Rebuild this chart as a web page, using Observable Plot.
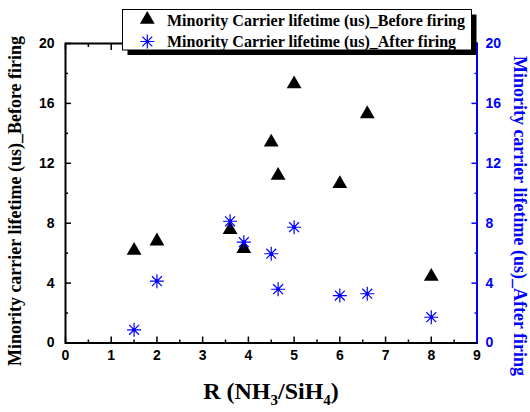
<!DOCTYPE html>
<html><head><meta charset="utf-8">
<script src="https://cdn.jsdelivr.net/npm/d3@7"></script>
<script src="https://cdn.jsdelivr.net/npm/@observablehq/plot@0.6"></script>
<style>body{margin:0;background:#fff}</style>
</head><body><div id="chart"></div>
<script>
const ratio = [1.5, 2.0, 3.6, 3.9, 4.5, 4.65, 5.0, 6.0, 6.6, 8.0];
const beforeFiring = [6.18, 6.8, 7.56, 6.29, 13.4, 11.19, 17.3, 10.63, 15.3, 4.44];
const afterFiring = [0.88, 4.13, 8.13, 6.73, 5.96, 3.59, 7.73, 3.17, 3.29, 1.72];
const xTicks = [0, 1, 2, 3, 4, 5, 6, 7, 8, 9];
const xMinorTicks = [0.5, 1.5, 2.5, 3.5, 4.5, 5.5, 6.5, 7.5, 8.5];
const yTicks = [0, 4, 8, 12, 16, 20];
const yMinorTicks = [2, 6, 10, 14, 18];
const seriesNames = ["Minority Carrier lifetime (us)_Before firing", "Minority Carrier lifetime (us)_After firing"];
const yTitleLeft = "Minority carrier lifetime (us)_Before firing";
const yTitleRight = "Minority carrier lifetime (us)_After firing";

const data = ratio.map((r, i) => ({r, before: beforeFiring[i], after: afterFiring[i]}));

const star8 = {
  draw(ctx, size) {
    const r = Math.sqrt(size / Math.PI), d = r * Math.SQRT1_2;
    ctx.moveTo(-r, 0); ctx.lineTo(r, 0);
    ctx.moveTo(0, -r); ctx.lineTo(0, r);
    ctx.moveTo(-d, -d); ctx.lineTo(d, d);
    ctx.moveTo(-d, d); ctx.lineTo(d, -d);
  }
};
const blank = () => "";
const BLUE = "#0000ff";
const TRI_R = 5.5, STAR_R = 7;

const plot = Plot.plot({
  width: 530, height: 412,
  marginLeft: 65, marginRight: 53.5, marginTop: 43, marginBottom: 69.5,
  style: {fontFamily: "'Liberation Sans', Arial, sans-serif", fontSize: "14px", fontWeight: "bold", background: "white", color: "black"},
  x: {domain: [0, 9]},
  y: {domain: [0, 20]},
  marks: [
    Plot.axisX(xTicks, {anchor: "bottom", tickSize: -6, tickPadding: 13.5, strokeWidth: 1.5, label: null}),
    Plot.axisX(xMinorTicks, {anchor: "bottom", tickSize: -3, tickFormat: blank, strokeWidth: 1.5, label: null}),
    Plot.axisX(xTicks, {anchor: "top", tickSize: -6, tickFormat: blank, strokeWidth: 1.5, label: null}),
    Plot.axisX(xMinorTicks, {anchor: "top", tickSize: -3, tickFormat: blank, strokeWidth: 1.5, label: null}),
    Plot.axisY(yTicks, {anchor: "left", tickSize: -6, tickPadding: 17, strokeWidth: 1.5, label: null}),
    Plot.axisY(yMinorTicks, {anchor: "left", tickSize: -3, tickFormat: blank, strokeWidth: 1.5, label: null}),
    Plot.axisY(yTicks, {anchor: "right", tickSize: -6, tickPadding: 14.5, strokeWidth: 1.5, color: BLUE, label: null}),
    Plot.axisY(yMinorTicks, {anchor: "right", tickSize: -3, tickFormat: blank, strokeWidth: 1.5, color: BLUE, label: null}),
    Plot.frame({stroke: "black", strokeWidth: 2}),
    Plot.ruleX([9], {stroke: BLUE, strokeWidth: 2}),
    Plot.dot(data, {x: "r", y: "before", symbol: "triangle", r: TRI_R, fill: "black", stroke: null}),
    Plot.dot(data, {x: "r", y: "after", symbol: star8, r: STAR_R, stroke: BLUE, strokeWidth: 1.2, fill: "none"}),
    Plot.dot(data, {x: "r", y: "after", r: 1.8, fill: BLUE, stroke: null})
  ]
});
document.getElementById("chart").appendChild(plot);

const svg = d3.select(plot);
const serif = "'Liberation Serif', 'Times New Roman', serif";

// Legend
const lg = svg.append("g").attr("text-anchor", "start");
lg.append("rect").attr("x", 127.5).attr("y", 14.5).attr("width", 349).attr("height", 40.5).attr("fill", "black");
lg.append("rect").attr("x", 122.5).attr("y", 9.5).attr("width", 349).attr("height", 40.5).attr("fill", "white").attr("stroke", "black").attr("stroke-width", 1);
lg.append("path").attr("transform", "translate(147.3,19.5)").attr("d", d3.symbol(d3.symbolTriangle, Math.PI * TRI_R * TRI_R)()).attr("fill", "black");
lg.append("path").attr("transform", "translate(147.3,41.5)").attr("d", d3.symbol(star8, Math.PI * STAR_R * STAR_R)()).attr("stroke", BLUE).attr("stroke-width", 1.2).attr("fill", "none");
lg.append("circle").attr("cx", 147.3).attr("cy", 41.5).attr("r", 1.8).attr("fill", BLUE);
lg.selectAll("text").data(seriesNames).join("text")
  .attr("x", 167).attr("y", (d, i) => 25.5 + i * 21)
  .attr("text-anchor", "start")
  .attr("font-family", serif).attr("font-weight", "bold").attr("font-size", 16).attr("fill", "black")
  .text(d => d);

// Axis titles
svg.append("text").attr("transform", "translate(21,201) rotate(-90)").attr("text-anchor", "middle")
  .attr("font-family", serif).attr("font-weight", "bold").attr("font-size", 18).attr("fill", "black").text(yTitleLeft);
svg.append("text").attr("transform", "translate(514,216) rotate(90)").attr("text-anchor", "middle")
  .attr("font-family", serif).attr("font-weight", "bold").attr("font-size", 18).attr("fill", BLUE).text(yTitleRight);

const xt = svg.append("text").attr("x", 271).attr("y", 399).attr("text-anchor", "middle")
  .attr("font-family", serif).attr("font-weight", "bold").attr("font-size", 24).attr("fill", "black");
xt.append("tspan").text("R (NH");
xt.append("tspan").attr("font-size", 15).attr("dy", 6).text("3");
xt.append("tspan").attr("dy", -6).text("/SiH");
xt.append("tspan").attr("font-size", 15).attr("dy", 6).text("4");
xt.append("tspan").attr("dy", -6).text(")");
</script>
</body></html>
